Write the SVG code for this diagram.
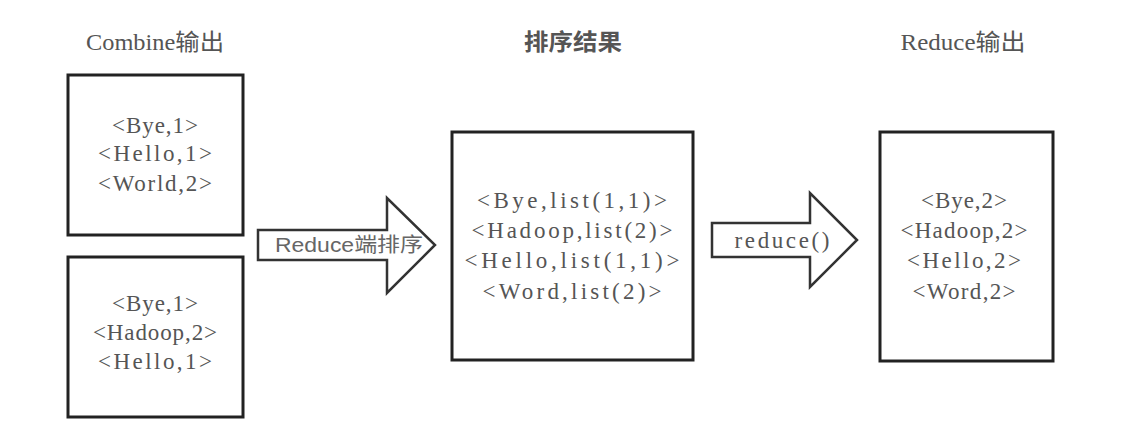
<svg xmlns="http://www.w3.org/2000/svg" width="1127" height="444" viewBox="0 0 1127 444">
<style>
.box{fill:#fff;stroke:#222;stroke-width:3}
.arr{fill:#fff;stroke:#333;stroke-width:2.5;stroke-linejoin:miter}
.t{font-family:"Liberation Serif","Noto Sans CJK SC",serif;font-size:23px;fill:#555;text-anchor:middle}
.h{font-family:"Liberation Serif","Noto Sans CJK SC",serif;font-size:23px;fill:#555;text-anchor:middle}
.l{font-family:"Liberation Sans","Noto Sans CJK SC",sans-serif;font-size:20px;fill:#666;text-anchor:middle}
</style>
<rect width="1127" height="444" fill="#fff"/>
<g id="titles">
<text class="h" x="155" y="50" textLength="138" lengthAdjust="spacingAndGlyphs">Combine输出</text>
<text class="h" x="573" y="50" textLength="98" lengthAdjust="spacingAndGlyphs" fill="#333" font-weight="bold">排序结果</text>
<text class="h" x="963" y="50" textLength="125" lengthAdjust="spacingAndGlyphs">Reduce输出</text>
</g>
<g id="combine1">
<rect class="box" x="68" y="75" width="175" height="160"/>
<text class="t" x="155" y="133" textLength="86">&lt;Bye,1&gt;</text>
<text class="t" x="155" y="161" textLength="114">&lt;Hello,1&gt;</text>
<text class="t" x="155" y="191" textLength="114">&lt;World,2&gt;</text>
</g>
<g id="combine2">
<rect class="box" x="68" y="257" width="175" height="160"/>
<text class="t" x="155" y="311" textLength="86">&lt;Bye,1&gt;</text>
<text class="t" x="155" y="340" textLength="124">&lt;Hadoop,2&gt;</text>
<text class="t" x="155" y="369" textLength="114">&lt;Hello,1&gt;</text>
</g>
<g id="sorted">
<rect class="box" x="452" y="132" width="241" height="228"/>
<text class="t" x="572" y="208" textLength="190">&lt;Bye,list(1,1)&gt;</text>
<text class="t" x="572" y="238" textLength="201">&lt;Hadoop,list(2)&gt;</text>
<text class="t" x="572" y="268" textLength="215">&lt;Hello,list(1,1)&gt;</text>
<text class="t" x="572" y="299" textLength="179">&lt;Word,list(2)&gt;</text>
</g>
<g id="reduceout">
<rect class="box" x="880" y="132" width="173" height="229"/>
<text class="t" x="964" y="208" textLength="86">&lt;Bye,2&gt;</text>
<text class="t" x="964" y="238" textLength="127">&lt;Hadoop,2&gt;</text>
<text class="t" x="964" y="268" textLength="114">&lt;Hello,2&gt;</text>
<text class="t" x="964" y="299" textLength="103">&lt;Word,2&gt;</text>
</g>
<g id="connectors">
<g id="arrow1">
<polygon class="arr" points="258,230 387,230 387,198 435,245 387,293 387,260 258,260"/>
<text class="l" x="349" y="252" textLength="148" lengthAdjust="spacingAndGlyphs">Reduce端排序</text>
</g>
<g id="arrow2">
<polygon class="arr" points="712,223 810,223 810,193 857,240 810,287 810,257 712,257"/>
<text class="t" x="782" y="248" textLength="95" fill="#666" font-size="21">reduce()</text>
</g>
</g>
</svg>
